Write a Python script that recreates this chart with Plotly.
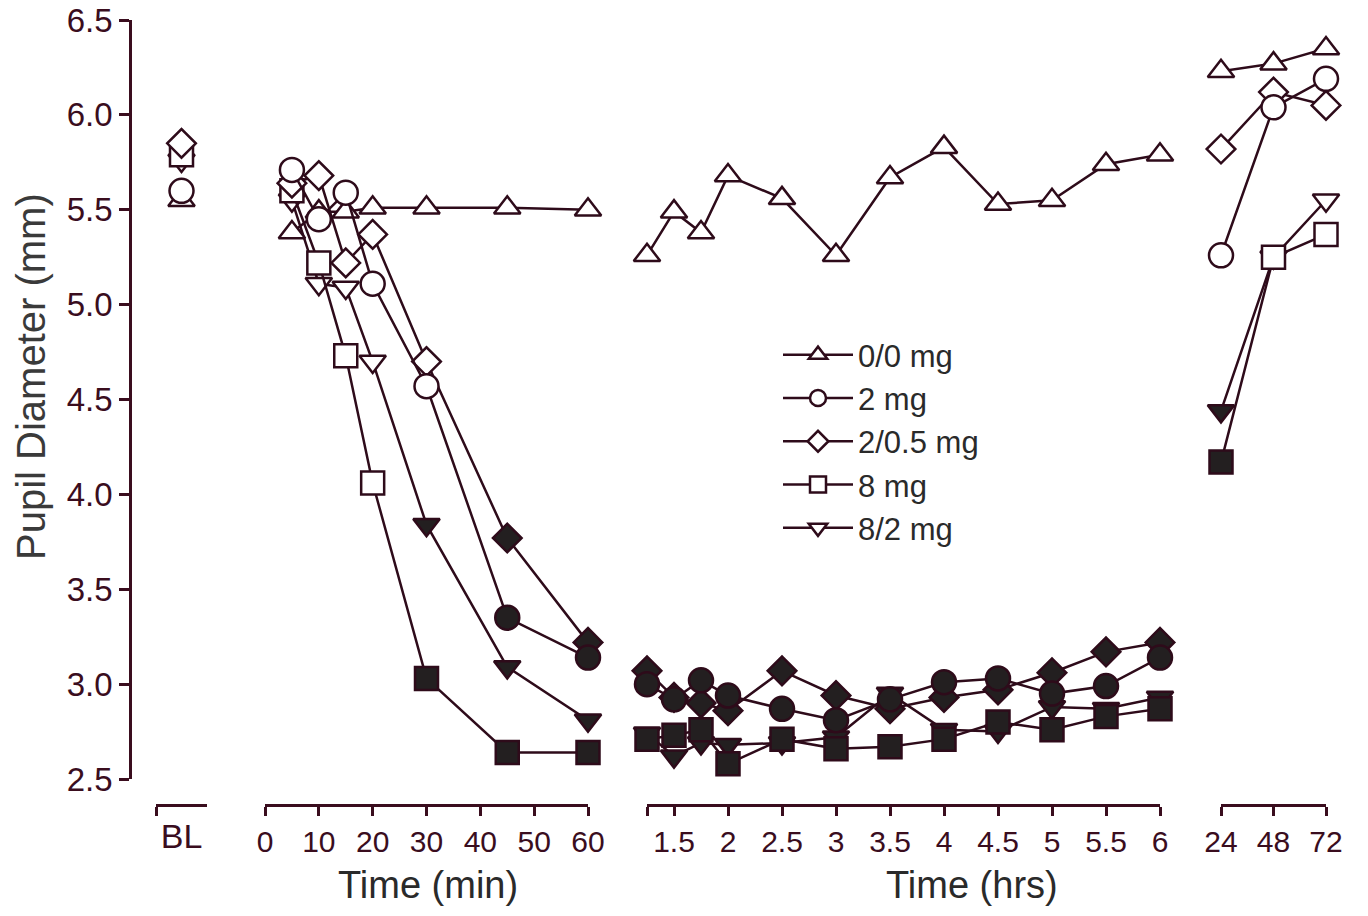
import plotly.graph_objects as go

# ---------------- data ----------------
bl_cat = ["BL"]
min_t = [5, 10, 15, 20, 30, 45, 60]
hr_t = [1.25, 1.5, 1.75, 2, 2.5, 3, 3.5, 4, 4.5, 5, 5.5, 6]
day_t = [24, 48, 72]

min_ticks = [0, 10, 20, 30, 40, 50, 60]
hr_ticks = [1.25, 1.5, 2, 2.5, 3, 3.5, 4, 4.5, 5, 5.5, 6]
hr_ticktext = ["", "1.5", "2", "2.5", "3", "3.5", "4", "4.5", "5", "5.5", "6"]
day_ticks = [24, 48, 72]
y_ticks = [2.5, 3.0, 3.5, 4.0, 4.5, 5.0, 5.5, 6.0, 6.5]

names = ["0/0 mg", "2 mg", "2/0.5 mg", "8 mg", "8/2 mg"]
symbols = ["triangle-up", "circle", "diamond", "square", "triangle-down"]

bl_vals = [5.55, 5.60, 5.85, 5.79, 5.76]

min_vals = [
    [5.38, 5.49, 5.49, 5.51, 5.51, 5.51, 5.50],
    [5.71, 5.45, 5.59, 5.11, 4.57, 3.35, 3.14],
    [5.64, 5.68, 5.22, 5.37, 4.70, 3.77, 3.22],
    [5.60, 5.22, 4.73, 4.06, 3.03, 2.64, 2.64],
    [5.55, 5.11, 5.09, 4.70, 3.84, 3.09, 2.81],
]
hr_vals = [
    [5.26, 5.49, 5.38, 5.68, 5.56, 5.26, 5.67, 5.83, 5.53, 5.55, 5.74, 5.79],
    [3.00, 2.92, 3.02, 2.94, 2.87, 2.81, 2.92, 3.01, 3.03, 2.95, 2.99, 3.14],
    [3.07, 2.93, 2.90, 2.86, 3.07, 2.94, 2.87, 2.93, 2.97, 3.06, 3.17, 3.22],
    [2.71, 2.73, 2.76, 2.58, 2.71, 2.66, 2.67, 2.71, 2.80, 2.76, 2.83, 2.87],
    [2.74, 2.62, 2.69, 2.68, 2.69, 2.72, 2.95, 2.76, 2.75, 2.88, 2.87, 2.93],
]
day_vals = [
    [6.23, 6.27, 6.35],
    [5.26, 6.04, 6.19],
    [5.82, 6.12, 6.05],
    [4.17, 5.25, 5.37],
    [4.44, 5.25, 5.55],
]
# 1 = filled (significant), 0 = open
min_fill = [
    [0, 0, 0, 0, 0, 0, 0],
    [0, 0, 0, 0, 0, 1, 1],
    [0, 0, 0, 0, 0, 1, 1],
    [0, 0, 0, 0, 1, 1, 1],
    [0, 0, 0, 0, 1, 1, 1],
]
hr_fill = [
    [0] * 12,
    [1] * 12,
    [1] * 12,
    [1] * 12,
    [1] * 12,
]
day_fill = [
    [0, 0, 0],
    [0, 0, 0],
    [0, 0, 0],
    [1, 0, 0],
    [1, 0, 0],
]

# ---------------- style ----------------
LINE = "#2e0b1a"
FILLC = "#231f20"
OPEN = "#ffffff"
AXC = "#3a0d1e"
TXT = "#2a2a2a"
FONT = "Liberation Sans, Arial, sans-serif"
sizes = {"triangle-up": 23, "circle": 24, "diamond": 22, "square": 23, "triangle-down": 23}

W, H = 1368, 916
# plot area in page pixels: left 130, right 1340, top 20, bottom 805
L, T = 130, 20
R = W - 1340
B = H - 805
PW = W - L - R
PH = H - T - B


def fx(px):
    return (px - L) / PW


def fy(py):
    return (H - B - py) / PH


fig = go.Figure()

draw_order = [4, 3, 2, 0, 1]
for i in draw_order:
    sym = symbols[i]
    ms = sizes[sym]
    common = dict(
        cliponaxis=False,
        legendgroup=names[i],
        name=names[i],
        legendrank=i + 1,
    )
    # baseline
    fig.add_trace(go.Scatter(
        x=bl_cat, y=[bl_vals[i]], xaxis="x", yaxis="y", mode="markers",
        marker=dict(symbol=sym, size=ms, color=OPEN, line=dict(color=LINE, width=2.5)),
        showlegend=False, **common))
    for xs, ys, fl, ax, leg in [
        (min_t, min_vals[i], min_fill[i], "x2", True),
        (hr_t, hr_vals[i], hr_fill[i], "x3", False),
        (day_t, day_vals[i], day_fill[i], "x4", False),
    ]:
        fig.add_trace(go.Scatter(
            x=xs, y=ys, xaxis=ax, yaxis="y", mode="lines+markers",
            line=dict(color=LINE, width=2.5),
            marker=dict(symbol=sym, size=ms,
                        color=[FILLC if f else OPEN for f in fl],
                        line=dict(color=LINE, width=2.5)),
            showlegend=leg, **common))

xcommon = dict(
    anchor="free", position=0, showline=True, linecolor=AXC, linewidth=2.5,
    ticks="outside", ticklen=9, tickwidth=2.5, tickcolor=AXC,
    showgrid=False, zeroline=False, ticklabelstandoff=0, automargin=False,
    ticklabeloverflow="allow",
)
tf = dict(family=FONT, size=30, color=AXC)

fig.update_layout(
    width=W, height=H,
    margin=dict(l=L, r=R, t=T, b=B, autoexpand=False),
    paper_bgcolor="white", plot_bgcolor="white",
    showlegend=True,
    legend=dict(
        x=fx(778), y=fy(328), xanchor="left", yanchor="top",
        font=dict(family=FONT, size=31, color=TXT),
        bgcolor="rgba(0,0,0,0)", itemwidth=70, traceorder="normal",
        tracegroupgap=0,
    ),
    xaxis=dict(domain=[fx(156), fx(207)], type="category", range=[-0.5, 0.5],
               tickson="boundaries", tickfont=dict(family=FONT, size=34, color=AXC),
               **xcommon),
    xaxis2=dict(domain=[fx(265), fx(588)], range=[0, 60], tickvals=min_ticks,
                tickfont=tf, **xcommon),
    xaxis3=dict(domain=[fx(647), fx(1160)], range=[1.25, 6], tickvals=hr_ticks,
                ticktext=hr_ticktext, tickfont=tf, **xcommon),
    xaxis4=dict(domain=[fx(1221), fx(1326)], range=[24, 72], tickvals=day_ticks,
                tickfont=tf, **xcommon),
    yaxis=dict(
        domain=[fy(779), 1], range=[2.5, 6.5], anchor="free", position=0,
        tickvals=y_ticks, tickformat=".1f", automargin=False,
        ticklabeloverflow="allow",
        showline=True, linecolor=AXC, linewidth=2.5,
        ticks="outside", ticklen=10, tickwidth=2.5, tickcolor=AXC,
        showgrid=False, zeroline=False,
        tickfont=dict(family=FONT, size=33, color=AXC),
    ),
    annotations=[
        dict(text="Time (min)", xref="paper", yref="paper", x=fx(428), y=fy(885),
             xanchor="center", yanchor="middle", showarrow=False,
             font=dict(family=FONT, size=38, color=TXT)),
        dict(text="Time (hrs)", xref="paper", yref="paper", x=fx(972), y=fy(885),
             xanchor="center", yanchor="middle", showarrow=False,
             font=dict(family=FONT, size=38, color=TXT)),
        dict(text="Pupil Diameter (mm)", xref="paper", yref="paper", x=fx(31), y=fy(377),
             xanchor="center", yanchor="middle", showarrow=False, textangle=-90,
             font=dict(family=FONT, size=40, color="#3a3a3a")),
    ],
)

fig.write_html(
    "out.html",
    config={"displayModeBar": False},
    post_script="document.body.style.margin='0';document.body.style.overflow='hidden';",
)
